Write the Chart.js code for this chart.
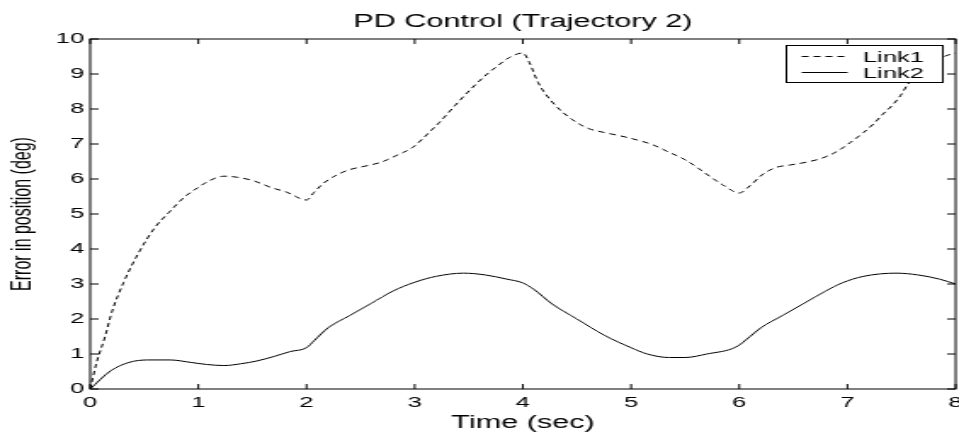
<!DOCTYPE html>
<html>
<head>
<meta charset="utf-8">
<script src="https://cdn.jsdelivr.net/npm/chart.js@4.4.1/dist/chart.umd.min.js"></script>
<style>
  html, body { margin: 0; padding: 0; background: #fff; }
  canvas { display: block; }
</style>
</head>
<body>
<!-- the source figure is a MATLAB plot stretched sideways, so the canvas is
     drawn narrow and widened to 959px by its inline style -->
<canvas id="plot" width="564" height="432" style="width:959px;height:432px"></canvas>
<script>
const TITLE = 'PD Control (Trajectory 2)';
const X_LABEL = 'Time (sec)';
const Y_LABEL = 'Error in position (deg)';

const xTicks = [0, 1, 2, 3, 4, 5, 6, 7, 8];
const yTicks = [0, 1, 2, 3, 4, 5, 6, 7, 8, 9, 10];

// Link1 (dashed)
const link1Time = [0, 0.06, 0.14, 0.2, 0.31, 0.45, 0.6, 0.73, 0.87, 1.0, 1.1, 1.24, 1.36, 1.51, 1.67, 1.82, 2.0,
  2.07, 2.15, 2.24, 2.39, 2.53, 2.69, 2.83, 2.98, 3.07, 3.15, 3.23, 3.37, 3.52, 3.67, 3.77, 3.88, 4.0,
  4.06, 4.14, 4.28, 4.46, 4.6, 4.75, 4.89, 5.05, 5.2, 5.34, 5.5, 5.62, 5.73, 5.85, 6.0,
  6.1, 6.22, 6.34, 6.47, 6.62, 6.76, 6.9, 7.03, 7.15, 7.24, 7.33, 7.41, 7.49, 7.56, 7.67, 7.77, 7.88, 8.0];
const link1Error = [0, 0.76, 1.52, 2.19, 3.05, 3.9, 4.62, 5.05, 5.48, 5.76, 5.95, 6.08, 6.05, 5.95, 5.76, 5.62, 5.4,
  5.62, 5.86, 6.05, 6.26, 6.36, 6.48, 6.67, 6.9, 7.14, 7.38, 7.62, 8.09, 8.57, 9.0, 9.24, 9.48, 9.6,
  9.33, 8.76, 8.17, 7.69, 7.45, 7.33, 7.24, 7.12, 6.98, 6.78, 6.55, 6.31, 6.07, 5.83, 5.6,
  5.81, 6.14, 6.33, 6.4, 6.48, 6.59, 6.78, 7.05, 7.33, 7.57, 7.86, 8.09, 8.38, 8.71, 9.0, 9.24, 9.48, 9.6];

// Link2 (solid)
const link2Time = [0, 0.19, 0.36, 0.53, 0.74, 0.93, 1.08, 1.24, 1.39, 1.54, 1.7, 1.85, 2.0,
  2.07, 2.2, 2.4, 2.6, 2.8, 3.0, 3.2, 3.45, 3.65, 3.85, 4.0,
  4.1, 4.27, 4.5, 4.75, 5.0, 5.15, 5.35, 5.5, 5.7, 5.97,
  6.1, 6.2, 6.4, 6.6, 6.8, 6.95, 7.15, 7.45, 7.65, 7.85, 8.0];
const link2Error = [0, 0.52, 0.76, 0.83, 0.83, 0.76, 0.7, 0.67, 0.72, 0.8, 0.93, 1.07, 1.18,
  1.38, 1.75, 2.1, 2.45, 2.8, 3.05, 3.22, 3.31, 3.26, 3.14, 3.03,
  2.85, 2.43, 2.0, 1.54, 1.18, 1.0, 0.9, 0.9, 1.0, 1.2,
  1.5, 1.75, 2.1, 2.45, 2.8, 3.03, 3.22, 3.31, 3.26, 3.14, 3.0];

const FONT = 'Liberation Sans';
const TICK = 5;

function toPoints(times, values) {
  return times.map((t, i) => ({ x: t, y: values[i] }));
}

// closed box round the plot with inward tick marks on all four sides
const frameTicks = {
  id: 'frameTicks',
  afterDatasetsDraw(chart) {
    const { ctx, chartArea: a, scales: { x, y } } = chart;
    ctx.save();
    ctx.strokeStyle = '#000';
    ctx.lineWidth = 1;
    ctx.strokeRect(a.left, a.top, a.right - a.left, a.bottom - a.top);
    ctx.beginPath();
    x.ticks.forEach((t) => {
      const px = x.getPixelForValue(t.value);
      ctx.moveTo(px, a.bottom); ctx.lineTo(px, a.bottom - TICK);
      ctx.moveTo(px, a.top); ctx.lineTo(px, a.top + TICK);
    });
    y.ticks.forEach((t) => {
      const py = y.getPixelForValue(t.value);
      ctx.moveTo(a.left, py); ctx.lineTo(a.left + TICK, py);
      ctx.moveTo(a.right, py); ctx.lineTo(a.right - TICK, py);
    });
    ctx.stroke();
    ctx.restore();
  },
};

// MATLAB style legend: white box inside the top right corner
const boxLegend = {
  id: 'boxLegend',
  afterDraw(chart) {
    const { ctx, chartArea: a } = chart;
    const w = 92, h = 37;
    const left = Math.round(a.right - 8 - w) + 0.5;
    const top = Math.round(a.top + 6) + 0.5;
    ctx.save();
    ctx.fillStyle = '#fff';
    ctx.fillRect(left, top, w, h);
    ctx.strokeStyle = '#000';
    ctx.lineWidth = 1;
    ctx.strokeRect(left, top, w, h);
    ctx.font = `15px "${FONT}"`;
    ctx.textBaseline = 'middle';
    chart.data.datasets.forEach((ds, i) => {
      const yy = top + 11 + i * 16;
      ctx.setLineDash(ds.borderDash || []);
      ctx.beginPath();
      ctx.moveTo(left + 9, yy);
      ctx.lineTo(left + 36, yy);
      ctx.stroke();
      ctx.setLineDash([]);
      ctx.fillStyle = '#000';
      ctx.fillText(ds.label, left + 45, yy + 1);
    });
    ctx.restore();
  },
};

new Chart(document.getElementById('plot'), {
  type: 'line',
  data: {
    datasets: [
      {
        label: 'Link1',
        data: toPoints(link1Time, link1Error),
        borderColor: '#000',
        borderWidth: 1,
        borderDash: [4, 3],
        pointRadius: 0,
        cubicInterpolationMode: 'monotone',
      },
      {
        label: 'Link2',
        data: toPoints(link2Time, link2Error),
        borderColor: '#000',
        borderWidth: 1,
        pointRadius: 0,
        cubicInterpolationMode: 'monotone',
      },
    ],
  },
  options: {
    responsive: false,
    devicePixelRatio: 1,
    animation: false,
    layout: { padding: { left: 0, right: 2, top: 0, bottom: 0 } },
    scales: {
      x: {
        type: 'linear',
        min: xTicks[0],
        max: xTicks[xTicks.length - 1],
        afterBuildTicks: (s) => { s.ticks = xTicks.map((v) => ({ value: v })); },
        afterFit: (s) => { s.height = 43; s.paddingLeft = 0; s.paddingRight = 0; },
        grid: { display: false, drawTicks: false },
        border: { display: false },
        ticks: { color: '#000', padding: 5, maxRotation: 0, font: { family: FONT, size: 15 } },
        title: {
          display: true,
          text: X_LABEL,
          color: '#000',
          padding: { top: 0, bottom: -2 },
          font: { family: FONT, size: 18 },
        },
      },
      y: {
        type: 'linear',
        min: yTicks[0],
        max: yTicks[yTicks.length - 1],
        afterBuildTicks: (s) => { s.ticks = yTicks.map((v) => ({ value: v })); },
        afterFit: (s) => { s.width = 53; s.paddingTop = 0; s.paddingBottom = 0; },
        grid: { display: false, drawTicks: false },
        border: { display: false },
        ticks: { color: '#000', padding: 3.5, font: { family: FONT, size: 15 } },
        title: {
          display: true,
          text: Y_LABEL,
          color: '#000',
          padding: { top: 4, bottom: 0 },
          font: { family: FONT, size: 16 },
        },
      },
    },
    plugins: {
      legend: { display: false },
      tooltip: { enabled: false },
      title: {
        display: true,
        text: TITLE,
        fullSize: false,
        color: '#000',
        padding: { top: 11, bottom: 6.4 },
        font: { family: FONT, size: 18, weight: 'normal' },
      },
    },
  },
  plugins: [frameTicks, boxLegend],
});
</script>
</body>
</html>
